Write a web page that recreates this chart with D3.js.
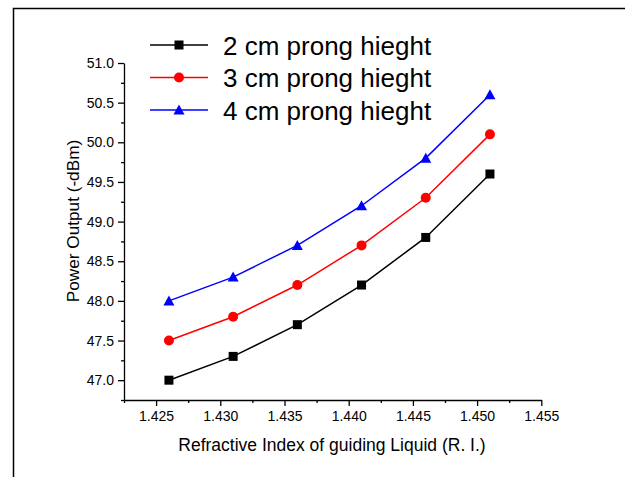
<!DOCTYPE html>
<html>
<head>
<meta charset="utf-8">
<script src="https://cdn.jsdelivr.net/npm/d3@7"></script>
<style>
  body { margin: 0; background: #fff; }
  svg { display: block; font-family: "Liberation Sans", Arial, sans-serif; }
</style>
</head>
<body>
<div id="chart"></div>
<script>
// Data
var refractiveIndex = [1.426, 1.431, 1.436, 1.441, 1.446, 1.451]
var prong2cm = [47.0, 47.3, 47.7, 48.2, 48.8, 49.6]
var prong3cm = [47.5, 47.8, 48.2, 48.7, 49.3, 50.1]
var prong4cm = [48.0, 48.3, 48.7, 49.2, 49.8, 50.6]
var seriesNames = ['2 cm prong hieght', '3 cm prong hieght', '4 cm prong hieght']
var xTicks = [1.425, 1.430, 1.435, 1.440, 1.445, 1.450, 1.455]
var yTicks = [47.0, 47.5, 48.0, 48.5, 49.0, 49.5, 50.0, 50.5, 51.0]

var width = 625, height = 477

var svg = d3.select('#chart').append('svg')
  .attr('width', width)
  .attr('height', height)

// outer frame (top + left edges visible)
svg.append('path')
  .attr('d', 'M13.5,477 L13.5,8.5 L625,8.5')
  .style('fill', 'none')
  .style('stroke', '#000')
  .style('stroke-width', 1.5)

var x = d3.scaleLinear().domain([1.4225, 1.455]).range([124, 541.3])
var y = d3.scaleLinear().domain([46.75, 51.0]).range([400, 63])

var colorize = function(i){
  if (i == 0) return '#000'
  if (i == 1) return '#ff0000'
  return '#0000ff'
}

var series = [prong2cm, prong3cm, prong4cm].map(function(vals, i){
  return {
    idx: i,
    name: seriesNames[i],
    values: vals.map(function(v, j){ return {x: refractiveIndex[j], y: v} })
  }
})

// axes
var xMinor = d3.range(1.4225, 1.4551, 0.0025).filter(function(v){
  return !xTicks.some(function(t){ return Math.abs(t - v) < 1e-6 })
})
var yMinor = d3.range(46.75, 51.01, 0.25).filter(function(v){
  return !yTicks.some(function(t){ return Math.abs(t - v) < 1e-6 })
})

var gx = svg.append('g')
  .attr('transform', 'translate(0,400)')
  .call(d3.axisBottom(x).tickValues(xTicks).tickFormat(d3.format('.3f')).tickSize(6).tickSizeOuter(0))
svg.append('g')
  .attr('transform', 'translate(0,400)')
  .call(d3.axisBottom(x).tickValues(xMinor).tickFormat('').tickSize(3).tickSizeOuter(0))
  .select('.domain').remove()

var gy = svg.append('g')
  .attr('transform', 'translate(124,0)')
  .call(d3.axisLeft(y).tickValues(yTicks).tickFormat(d3.format('.1f')).tickSize(6).tickSizeOuter(0))
svg.append('g')
  .attr('transform', 'translate(124,0)')
  .call(d3.axisLeft(y).tickValues(yMinor).tickFormat('').tickSize(3).tickSizeOuter(0))
  .select('.domain').remove()

svg.selectAll('.domain, .tick line').style('stroke', '#000').style('stroke-width', 1.3)
gx.selectAll('.tick text').style('font-size', '14px').style('fill', '#000').attr('y', 11)
gy.selectAll('.tick text').style('font-size', '14px').style('fill', '#000').attr('x', -10)

svg.append('text')
  .attr('x', 332)
  .attr('y', 451)
  .style('text-anchor', 'middle')
  .style('font-size', '17.5px')
  .text('Refractive Index of guiding Liquid (R. I.)')

svg.append('text')
  .attr('transform', 'translate(79,221) rotate(-90)')
  .style('text-anchor', 'middle')
  .style('font-size', '17.2px')
  .text('Power Output (-dBm)')

// lines and markers
var line = d3.line()
  .x(function(d){ return x(d.x) })
  .y(function(d){ return y(d.y) })

function drawMarker(g, i, cx, cy){
  if (i == 0) {
    g.append('rect').attr('x', cx - 4.5).attr('y', cy - 4.5).attr('width', 9).attr('height', 9).style('fill', colorize(i))
  } else if (i == 1) {
    g.append('circle').attr('cx', cx).attr('cy', cy).attr('r', 5).style('fill', colorize(i))
  } else {
    g.append('path').attr('d', 'M' + cx + ',' + (cy - 5.5) + ' L' + (cx + 5.5) + ',' + (cy + 4.5) + ' L' + (cx - 5.5) + ',' + (cy + 4.5) + ' Z').style('fill', colorize(i))
  }
}

var curve = svg.selectAll('.curve')
  .data(series)
  .enter().append('g')
    .attr('class', 'curve')

curve.append('path')
  .attr('d', function(d){ return line(d.values) })
  .style('fill', 'none')
  .style('stroke', function(d){ return colorize(d.idx) })
  .style('stroke-width', 1.5)

curve.each(function(d){
  var g = d3.select(this)
  d.values.forEach(function(v){ drawMarker(g, d.idx, x(v.x), y(v.y)) })
})

// legend
var legend = svg.append('g')
series.forEach(function(d, i){
  var ly = 45 + i * 32.5
  legend.append('line')
    .attr('x1', 150).attr('x2', 208).attr('y1', ly).attr('y2', ly)
    .style('stroke', colorize(i)).style('stroke-width', 1.5)
  drawMarker(legend, i, 179, ly)
  legend.append('text')
    .attr('x', 223)
    .attr('y', ly + 9.5)
    .style('font-size', '26px')
    .text(d.name)
})
</script>
</body>
</html>
